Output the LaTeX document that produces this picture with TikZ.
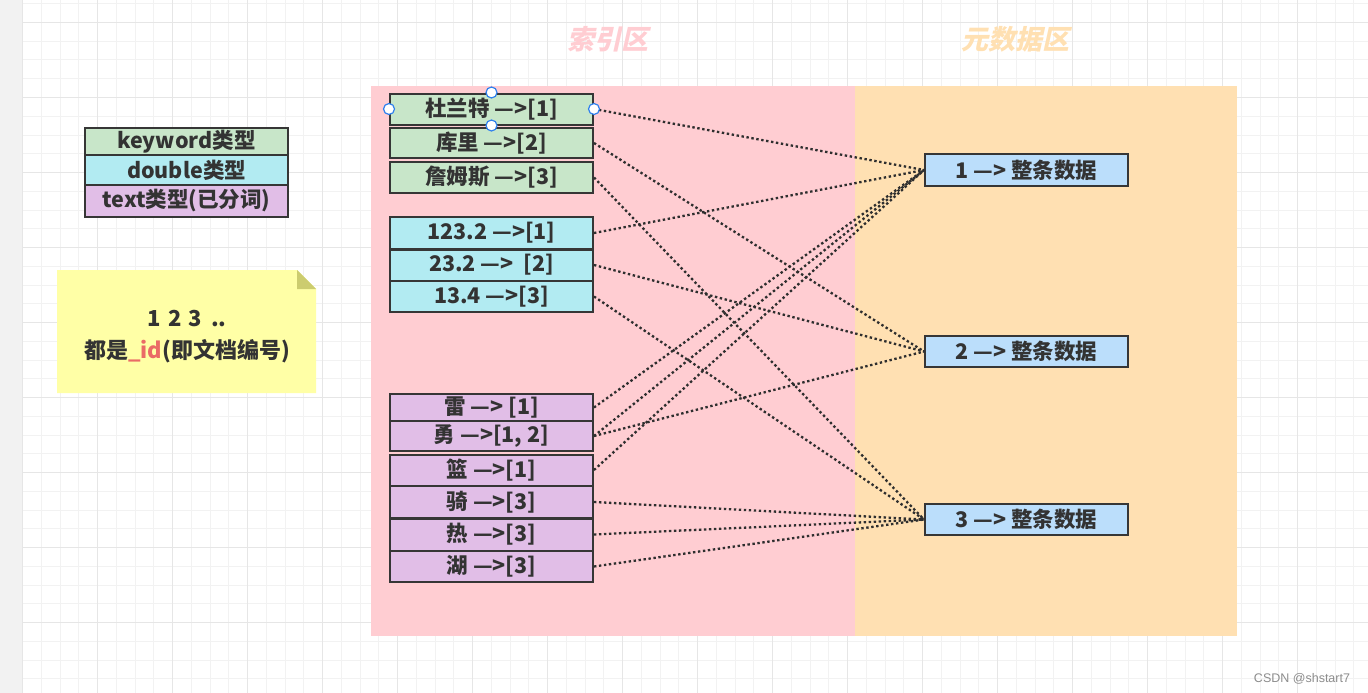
\documentclass[tikz,border=0pt]{standalone}
\usepackage{fontspec}
\setmainfont{Noto Sans CJK SC}
\newfontfamily\titlefont{Noto Sans CJK SC}[BoldFeatures={FakeSlant=0.22}]
\newfontfamily\wmfont{Liberation Sans}
\definecolor{gridminor}{HTML}{F2F2F2}
\definecolor{gridmajor}{HTML}{E6E6E6}
\definecolor{stripc}{HTML}{F2F2F2}
\definecolor{pinkbg}{HTML}{FFCDD2}
\definecolor{orangebg}{HTML}{FFE0B2}
\definecolor{kwc}{HTML}{C8E6C9}
\definecolor{dbc}{HTML}{B2EBF2}
\definecolor{txc}{HTML}{E1BEE7}
\definecolor{datac}{HTML}{BBDEFB}
\definecolor{linec}{HTML}{363636}
\definecolor{dotc}{HTML}{2E2E2E}
\definecolor{textc}{HTML}{333333}
\definecolor{notec}{HTML}{FFFFA6}
\definecolor{foldc}{HTML}{CCCC6F}
\definecolor{idc}{HTML}{EA6B66}
\definecolor{handlec}{HTML}{2F80ED}
\definecolor{wmc}{HTML}{8C8C8C}
\tikzset{
  boxbase/.style={draw=linec, line width=2pt, minimum width=203pt, inner sep=0pt,
    text=textc, font=\bfseries\fontsize{21.5}{24}\selectfont},
  idxbox/.style={boxbase},
  databox/.style={boxbase, fill=datac},
  legendbox/.style={boxbase},
  link/.style={draw=dotc, line width=2.3pt, dash pattern=on 2.4pt off 2.6pt},
  handle/.style={circle, draw=handlec, fill=white, line width=1.2pt, minimum size=11pt, inner sep=0pt},
  titletext/.style={font=\titlefont\bfseries\fontsize{27}{30}\selectfont},
}
\begin{document}
\begin{tikzpicture}[x=1pt,y=-1pt]
\useasboundingbox (0,0) rectangle (1368,693);
\fill[white] (0,0) rectangle (1368,693);
% grid
\foreach \i in {0,...,72} {
  \pgfmathsetmacro\xx{22.7+18.75*\i}
  \draw[gridminor, line width=1pt] (\xx,0) -- (\xx,693);
}
\foreach \i in {0,...,37} {
  \pgfmathsetmacro\yy{3.75+18.75*\i}
  \draw[gridminor, line width=1pt] (22.7,\yy) -- (1368,\yy);
}
\foreach \i in {0,...,18} {
  \pgfmathsetmacro\xx{22.7+75*\i}
  \draw[gridmajor, line width=1pt] (\xx,0) -- (\xx,693);
}
\foreach \i in {0,...,9} {
  \pgfmathsetmacro\yy{22.5+75*\i}
  \draw[gridmajor, line width=1pt] (22.7,\yy) -- (1368,\yy);
}
\fill[stripc] (0,0) rectangle (22,693);
% zones
\fill[pinkbg] (371,86) rectangle (855,636);
\fill[orangebg] (855,86) rectangle (1237,636);
\node[titletext, text=pinkbg] (t1) at (608,39) {索引区};
\node[titletext, text=orangebg] (t2) at (1015,39) {元数据区};
% legend
\node[legendbox, fill=kwc, minimum height=27pt] (l1) at (186.5,141.5) {keyword类型};
\node[legendbox, fill=dbc, minimum height=30pt] (l2) at (186.5,170) {double类型};
\node[legendbox, fill=txc, minimum height=32pt] (l3) at (186.5,201) {text类型(已分词)};
% note
\fill[notec] (57,270) -- (297,270) -- (316,289) -- (316,393) -- (57,393) -- cycle;
\fill[foldc] (297,270) -- (316,289) -- (297,289) -- cycle;
\node[text=textc, font=\bfseries\fontsize{22}{24}\selectfont] (n1) at (187,319) {1\,\,2\,\,3\, ..};
\node[text=textc, font=\bfseries\fontsize{22}{24}\selectfont] (n2) at (187,351) {都是\textcolor{idc}{\_id}(即文档编号)};
% data boxes
\node[databox, minimum height=32pt] (d1) at (1026.5,170) {1 —> 整条数据};
\node[databox, minimum height=31pt] (d2) at (1026.5,351.5) {2 —> 整条数据};
\node[databox, minimum height=31pt] (d3) at (1026.5,519.5) {3 —> 整条数据};
% index boxes
\node[idxbox, fill=kwc, minimum height=31pt] (a1) at (491.5,109) {杜兰特 —>[1]};
\node[idxbox, fill=kwc, minimum height=30pt] (a2) at (491.5,143) {库里 —>[2]};
\node[idxbox, fill=kwc, minimum height=31pt] (a3) at (491.5,177.5) {詹姆斯 —>[3]};
\node[idxbox, fill=dbc, minimum height=32pt] (b1) at (491.5,233) {123.2 —>[1]};
\node[idxbox, fill=dbc, minimum height=31pt] (b2) at (491.5,265) {23.2 —> \ [2]};
\node[idxbox, fill=dbc, minimum height=31pt] (b3) at (491.5,296.5) {13.4 —>[3]};
\node[idxbox, fill=txc, minimum height=27pt] (c1) at (491.5,407.5) {雷 —> [1]};
\node[idxbox, fill=txc, minimum height=30pt] (c2) at (491.5,436) {勇 —>[1, 2]};
\node[idxbox, fill=txc, minimum height=31pt] (c3) at (491.5,470) {篮 —>[1]};
\node[idxbox, fill=txc, minimum height=32pt] (c4) at (491.5,502) {骑 —>[3]};
\node[idxbox, fill=txc, minimum height=32pt] (c5) at (491.5,534.5) {热 —>[3]};
\node[idxbox, fill=txc, minimum height=31pt] (c6) at (491.5,566.5) {湖 —>[3]};
% links
\draw[link] (a1.east) -- (d1.west);
\draw[link] (a2.east) -- (d2.west);
\draw[link] (a3.east) -- (d3.west);
\draw[link] (b1.east) -- (d1.west);
\draw[link] (b2.east) -- (d2.west);
\draw[link] (b3.east) -- (d3.west);
\draw[link] (c1.east) -- (d1.west);
\draw[link] (c2.east) -- (d1.west);
\draw[link] (c2.east) -- (d2.west);
\draw[link] (c3.east) -- (d1.west);
\draw[link] (c4.east) -- (d3.west);
\draw[link] (c5.east) -- (d3.west);
\draw[link] (c6.east) -- (d3.west);
% selection handles
\node[handle] (h1) at (a1.north) {};
\node[handle] (h2) at (a1.west) {};
\node[handle] (h3) at (a1.east) {};
\node[handle] (h4) at (a1.south) {};
% watermark
\node[text=wmc, font=\wmfont\fontsize{12.5}{14}\selectfont] (wm) at (1302,679) {CSDN @shstart7};
\end{tikzpicture}
\end{document}
